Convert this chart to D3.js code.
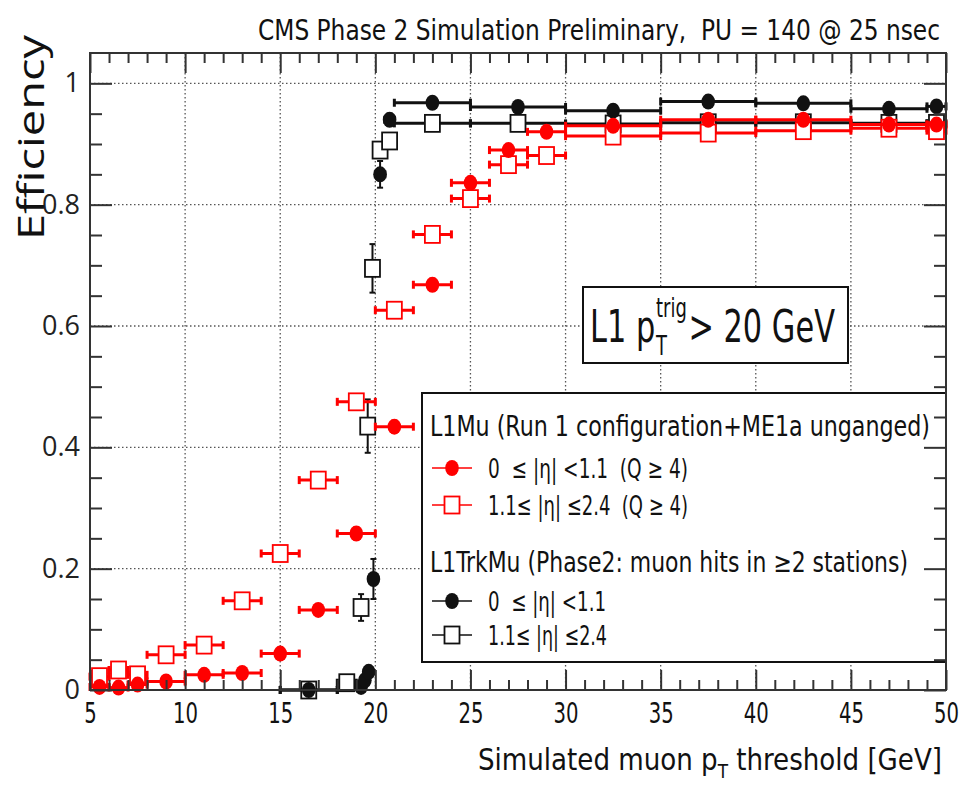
<!DOCTYPE html>
<html>
<head>
<meta charset="utf-8">
<script src="https://cdn.jsdelivr.net/npm/d3@7"></script>
<style>
  body { margin: 0; background: #fff; }
  svg { display: block; }
  text { white-space: pre; }
</style>
</head>
<body>
<div id="chart"></div>
<script>
// L1Mu bins (both eta ranges share them)
const muX  = [5.5, 6.5, 7.5, 9, 11, 13, 15, 17, 19, 21, 23, 25, 27, 29, 32.5, 37.5, 42.5, 47, 49.5];
const muLo = [5, 6, 7, 8, 10, 12, 14, 16, 18, 20, 22, 24, 26, 28, 30, 35, 40, 45, 49];
const muHi = [6, 7, 8, 10, 12, 14, 16, 18, 20, 22, 24, 26, 28, 30, 35, 40, 45, 49, 50];
const muBarrelEff = [0.005, 0.004, 0.009, 0.014, 0.025, 0.028, 0.06, 0.132, 0.258, 0.434, 0.668, 0.836, 0.89, 0.92, 0.93, 0.94, 0.94, 0.932, 0.932];
const muBarrelErr = [0.003, 0.003, 0.003, 0.003, 0.004, 0.004, 0.006, 0.008, 0.01, 0.01, 0.01, 0.008, 0.008, 0.006, 0.004, 0.004, 0.004, 0.004, 0.004];
const muEndcapEff = [0.022, 0.033, 0.025, 0.058, 0.074, 0.147, 0.225, 0.346, 0.475, 0.626, 0.751, 0.81, 0.866, 0.881, 0.913, 0.918, 0.922, 0.926, 0.922];
const muEndcapErr = [0.004, 0.005, 0.004, 0.005, 0.006, 0.008, 0.01, 0.011, 0.012, 0.012, 0.01, 0.009, 0.008, 0.007, 0.004, 0.004, 0.004, 0.004, 0.004];

// L1TrkMu, |eta| < 1.1
const trkBX  = [16.5, 19.25, 19.45, 19.65, 19.9, 20.25, 20.75, 23, 27.5, 32.5, 37.5, 42.5, 47, 49.5];
const trkBLo = [15, 19.25, 19.45, 19.65, 19.9, 20, 20.5, 21, 25, 30, 35, 40, 45, 49];
const trkBHi = [18, 19.25, 19.45, 19.65, 19.9, 20.5, 21, 25, 30, 35, 40, 45, 49, 50];
const trkBEff = [0.0, 0.005, 0.016, 0.03, 0.183, 0.85, 0.94, 0.968, 0.961, 0.955, 0.97, 0.967, 0.958, 0.962];
const trkBErr = [0.003, 0.003, 0.005, 0.006, 0.033, 0.022, 0.01, 0.004, 0.004, 0.004, 0.004, 0.004, 0.004, 0.004];

// L1TrkMu, 1.1 < |eta| < 2.4
const trkEX  = [16.5, 18.5, 19.25, 19.6, 19.85, 20.25, 20.75, 23, 27.5, 32.5, 37.5, 42.5, 47, 49.5];
const trkELo = [15, 18, 19.25, 19.6, 19.85, 20, 20.5, 21, 25, 30, 35, 40, 45, 49];
const trkEHi = [18, 19, 19.25, 19.6, 19.85, 20.5, 21, 25, 30, 35, 40, 45, 49, 50];
const trkEEff = [0.0, 0.012, 0.136, 0.435, 0.695, 0.89, 0.905, 0.934, 0.934, 0.933, 0.935, 0.935, 0.934, 0.934];
const trkEErr = [0.003, 0.005, 0.022, 0.044, 0.04, 0.012, 0.012, 0.004, 0.004, 0.004, 0.004, 0.004, 0.004, 0.004];

const xMajor = [5, 10, 15, 20, 25, 30, 35, 40, 45, 50];
const yMajor = [0, 0.2, 0.4, 0.6, 0.8, 1];

const NARROW = '"Liberation Sans Narrow", "DejaVu Sans Condensed", "Roboto Condensed", "Liberation Sans", sans-serif';
const WIDE = '"Open Sans", "DejaVu Sans", sans-serif';
const RED = '#ff0000';
const INK = '#111';

const W = 961, H = 791;
const frame = { left: 90, right: 946, top: 53, bottom: 690 };

const svg = d3.select('#chart').append('svg')
  .attr('width', W)
  .attr('height', H);

const x = d3.scaleLinear().domain([5, 50]).range([frame.left, frame.right]);
const y = d3.scaleLinear().domain([0, 1.05]).range([frame.bottom, frame.top]);

// Grid (dotted, at major ticks)
const grid = svg.append('g')
  .attr('stroke', '#555')
  .attr('stroke-width', 1.3)
  .attr('stroke-dasharray', '1.5,2.5');
grid.selectAll('line.gx')
  .data(xMajor.slice(1, -1))
  .join('line')
  .attr('x1', d => x(d)).attr('x2', d => x(d))
  .attr('y1', frame.top).attr('y2', frame.bottom);
grid.selectAll('line.gy')
  .data(yMajor.slice(1))
  .join('line')
  .attr('x1', frame.left).attr('x2', frame.right)
  .attr('y1', d => y(d)).attr('y2', d => y(d));

// Data series
function drawSeries(xs, lo, hi, ys, errs, color, filled) {
  const pts = xs.map((v, i) => ({ x: v, lo: lo[i], hi: hi[i], y: ys[i], e: errs[i] }));
  const g = svg.append('g').attr('stroke', color).attr('fill', 'none');

  const wide = pts.filter(d => d.hi > d.lo);
  g.selectAll('line.h')
    .data(wide)
    .join('line')
    .attr('stroke-width', 3)
    .attr('x1', d => x(d.lo)).attr('x2', d => x(d.hi))
    .attr('y1', d => y(d.y)).attr('y2', d => y(d.y));
  // end caps of the horizontal bars
  g.selectAll('line.cap')
    .data(wide.flatMap(d => [{ px: d.lo, y: d.y }, { px: d.hi, y: d.y }]))
    .join('line')
    .attr('stroke-width', 3)
    .attr('x1', d => x(d.px)).attr('x2', d => x(d.px))
    .attr('y1', d => y(d.y) - 4).attr('y2', d => y(d.y) + 4);

  // vertical (statistical) bars
  g.selectAll('line.v')
    .data(pts)
    .join('line')
    .attr('stroke-width', 2)
    .attr('x1', d => x(d.x)).attr('x2', d => x(d.x))
    .attr('y1', d => y(d.y - d.e)).attr('y2', d => y(d.y + d.e));
  g.selectAll('line.vc')
    .data(pts.flatMap(d => [d.y - d.e, d.y + d.e].map(v => ({ x: d.x, v }))))
    .join('line')
    .attr('stroke-width', 2)
    .attr('x1', d => x(d.x) - 3).attr('x2', d => x(d.x) + 3)
    .attr('y1', d => y(d.v)).attr('y2', d => y(d.v));

  drawMarkers(g, pts.map(d => [x(d.x), y(d.y)]), color, filled);
}

function drawMarkers(g, coords, color, filled) {
  if (filled) {
    g.selectAll('ellipse')
      .data(coords)
      .join('ellipse')
      .attr('cx', d => d[0]).attr('cy', d => d[1])
      .attr('rx', 6.8).attr('ry', 8)
      .attr('fill', color).attr('stroke', 'none');
  } else {
    g.selectAll('rect')
      .data(coords)
      .join('rect')
      .attr('x', d => d[0] - 7.5).attr('y', d => d[1] - 8.5)
      .attr('width', 15).attr('height', 17)
      .attr('fill', '#fff').attr('stroke', color).attr('stroke-width', 1.8);
  }
}

drawSeries(trkEX, trkELo, trkEHi, trkEEff, trkEErr, INK, false);
drawSeries(trkBX, trkBLo, trkBHi, trkBEff, trkBErr, INK, true);
drawSeries(muX, muLo, muHi, muEndcapEff, muEndcapErr, RED, false);
drawSeries(muX, muLo, muHi, muBarrelEff, muBarrelErr, RED, true);

// "L1 pT trig > 20 GeV" box
const cut = svg.append('g');
cut.append('rect')
  .attr('x', 583).attr('y', 287).attr('width', 265).attr('height', 76)
  .attr('fill', '#fff').attr('stroke', INK).attr('stroke-width', 2);
const cutText = cut.append('g');
const cutFont = `44px ${NARROW}`;
const t1 = cutText.append('text').attr('x', 590).attr('y', 342).style('font', cutFont).attr('fill', INK).text('L1 p');
const x1 = 590 + t1.node().getComputedTextLength();
cutText.append('text').attr('x', x1 + 1).attr('y', 355).style('font', `26px ${NARROW}`).attr('fill', INK).text('T');
const sup = cutText.append('text').attr('x', x1 + 1).attr('y', 317).style('font', `26px ${NARROW}`).attr('fill', INK).text('trig');
const x2 = x1 + 1 + sup.node().getComputedTextLength();
const t3 = cutText.append('text').attr('x', x2 + 2).attr('y', 342).style('font', cutFont).attr('fill', INK).text('> 20 GeV');
const cutW = x2 + 2 + t3.node().getComputedTextLength() - 590;
const cutS = 245 / cutW;
cutText.attr('transform', `translate(590,0) scale(${cutS},1) translate(-590,0)`);

// Legend
const leg = svg.append('g');
leg.append('rect')
  .attr('x', 422).attr('y', 393).attr('width', 524).attr('height', 269)
  .attr('fill', '#fff').attr('stroke', INK).attr('stroke-width', 2);

const legHeaders = [
  { text: 'L1Mu (Run 1 configuration+ME1a unganged)', y: 436, len: 500 },
  { text: 'L1TrkMu (Phase2: muon hits in ≥2 stations)', y: 572, len: 478 }
];
const legEntries = [
  { text: '0  ≤ |η| <1.1  (Q ≥ 4)', y: 468, len: 200, color: RED, filled: true },
  { text: '1.1≤ |η| ≤2.4  (Q ≥ 4)', y: 505, len: 200, color: RED, filled: false },
  { text: '0  ≤ |η| <1.1', y: 601, len: 118, color: INK, filled: true },
  { text: '1.1≤ |η| ≤2.4', y: 635, len: 119, color: INK, filled: false }
];
leg.selectAll('text.hdr')
  .data(legHeaders)
  .join('text')
  .attr('x', 430).attr('y', d => d.y)
  .attr('textLength', d => d.len).attr('lengthAdjust', 'spacingAndGlyphs')
  .style('font', `28px ${NARROW}`).attr('fill', INK)
  .text(d => d.text);
legEntries.forEach(e => {
  const g = leg.append('g').attr('stroke', e.color);
  g.append('line')
    .attr('x1', 432).attr('x2', 472).attr('y1', e.y).attr('y2', e.y)
    .attr('stroke-width', 1.5);
  drawMarkers(g, [[452, e.y]], e.color, e.filled);
  leg.append('text')
    .attr('x', 488).attr('y', e.y + 10)
    .attr('textLength', e.len).attr('lengthAdjust', 'spacingAndGlyphs')
    .style('font', `27px ${NARROW}`).attr('fill', INK)
    .text(e.text);
});

// Axes: ticks point inward on all four sides
function styleAxis(g) {
  g.select('.domain').remove();
  g.selectAll('.tick line').attr('stroke', '#333').attr('stroke-width', 2);
}
const xMinor = d3.range(5, 51).filter(v => v % 5 !== 0);
const yMinor = d3.range(0, 1.05, 0.05).map(v => +v.toFixed(2)).filter(v => Math.round(v * 100) % 20 !== 0);

svg.append('g').attr('transform', `translate(0,${frame.bottom})`)
  .call(d3.axisBottom(x).tickValues(xMajor).tickSize(-20).tickPadding(12).tickFormat(d3.format('d')))
  .call(styleAxis)
  .call(g => g.selectAll('.tick text')
    .style('font', `29px ${NARROW}`).attr('fill', INK)
    .attr('textLength', d => String(d).length * 12.5)
    .attr('lengthAdjust', 'spacingAndGlyphs'));
svg.append('g').attr('transform', `translate(0,${frame.bottom})`)
  .call(d3.axisBottom(x).tickValues(xMinor).tickSize(-10).tickFormat(''))
  .call(styleAxis);
svg.append('g').attr('transform', `translate(0,${frame.top})`)
  .call(d3.axisTop(x).tickValues(xMajor).tickSize(-20).tickFormat(''))
  .call(styleAxis);
svg.append('g').attr('transform', `translate(0,${frame.top})`)
  .call(d3.axisTop(x).tickValues(xMinor).tickSize(-10).tickFormat(''))
  .call(styleAxis);

svg.append('g').attr('transform', `translate(${frame.left},0)`)
  .call(d3.axisLeft(y).tickValues(yMajor).tickSize(-22).tickPadding(10)
    .tickFormat(d => (d === 0 || d === 1) ? String(d) : d.toFixed(1)))
  .call(styleAxis)
  .call(g => g.selectAll('.tick text').style('font', `27px ${WIDE}`).attr('fill', '#222'));
svg.append('g').attr('transform', `translate(${frame.left},0)`)
  .call(d3.axisLeft(y).tickValues(yMinor).tickSize(-12).tickFormat(''))
  .call(styleAxis);
svg.append('g').attr('transform', `translate(${frame.right},0)`)
  .call(d3.axisRight(y).tickValues(yMajor).tickSize(-22).tickFormat(''))
  .call(styleAxis);
svg.append('g').attr('transform', `translate(${frame.right},0)`)
  .call(d3.axisRight(y).tickValues(yMinor).tickSize(-12).tickFormat(''))
  .call(styleAxis);

// Frame
svg.append('rect')
  .attr('x', frame.left).attr('y', frame.top)
  .attr('width', frame.right - frame.left).attr('height', frame.bottom - frame.top)
  .attr('fill', 'none').attr('stroke', '#333').attr('stroke-width', 2);

// Titles
svg.append('text')
  .attr('x', 940).attr('y', 40).attr('text-anchor', 'end')
  .attr('textLength', 682).attr('lengthAdjust', 'spacingAndGlyphs')
  .style('font', `28px ${NARROW}`).attr('fill', INK)
  .text('CMS Phase 2 Simulation Preliminary,  PU = 140 @ 25 nsec');

svg.append('text')
  .attr('transform', 'translate(44,35) rotate(-90)')
  .attr('text-anchor', 'end')
  .attr('textLength', 205).attr('lengthAdjust', 'spacingAndGlyphs')
  .style('font', `36px ${WIDE}`).attr('fill', INK)
  .text('Efficiency');

const xt = svg.append('text')
  .attr('x', 942).attr('y', 770).attr('text-anchor', 'end')
  .attr('textLength', 464).attr('lengthAdjust', 'spacingAndGlyphs')
  .style('font', `31px ${NARROW}`).attr('fill', INK);
xt.append('tspan').text('Simulated muon p');
xt.append('tspan').attr('dy', 8).style('font-size', '20px').text('T');
xt.append('tspan').attr('dy', -8).text(' threshold [GeV]');
</script>
</body>
</html>
